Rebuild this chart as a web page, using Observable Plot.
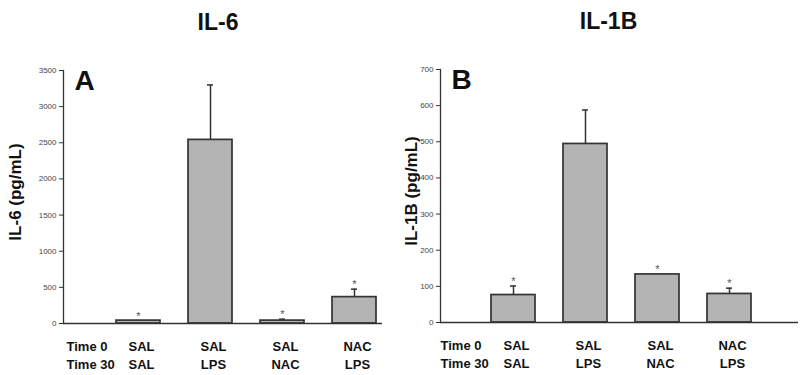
<!DOCTYPE html>
<html>
<head>
<meta charset="utf-8">
<script src="https://cdn.jsdelivr.net/npm/d3@7"></script>
<script src="https://cdn.jsdelivr.net/npm/@observablehq/plot@0.6"></script>
<style>
  html, body { margin: 0; padding: 0; background: #fff; }
  #row { display: flex; width: 800px; height: 375px; }
</style>
</head>
<body>
<div id="row"></div>
<script>
// ---- data ----
const treatments = ["SAL/SAL", "SAL/LPS", "SAL/NAC", "NAC/LPS"];
const time0 = ["SAL", "SAL", "SAL", "NAC"];
const time30 = ["SAL", "LPS", "NAC", "LPS"];
const timeLabel = "Time 0\nTime 30";

const il6Mean = [40, 2540, 40, 365];
const il6ErrTop = [40, 3300, 60, 475];
const il6Star = [true, false, true, true];
const il6Ticks = [0, 500, 1000, 1500, 2000, 2500, 3000, 3500];

const il1bMean = [76, 494, 133, 79];
const il1bErrTop = [101, 588, 133, 95];
const il1bStar = [true, false, true, true];
const il1bTicks = [0, 100, 200, 300, 400, 500, 600, 700];

const titles = ["IL-6", "IL-1B"];
const yLabels = ["IL-6 (pg/mL)", "IL-1B (pg/mL)"];
const panelLetters = ["A", "B"];

function makeChart(cfg) {
  const data = treatments.map((t, i) => ({
    treatment: t, t0: time0[i], t30: time30[i],
    mean: cfg.mean[i], errTop: cfg.errTop[i], star: cfg.star[i]
  }));
  const bold = "bold";
  return Plot.plot({
    width: 400, height: 375,
    marginLeft: cfg.ml, marginRight: cfg.mr, marginTop: cfg.mt, marginBottom: cfg.mb,
    style: {fontFamily: "'Liberation Sans', Arial, sans-serif", background: "white", overflow: "visible"},
    x: {type: "band", domain: treatments, range: cfg.xRange, paddingInner: 0.39, paddingOuter: 0.195, axis: null},
    y: {domain: [0, cfg.ticks[cfg.ticks.length - 1]], axis: null},
    marks: [
      Plot.axisY({ticks: cfg.ticks, tickFormat: d => String(d), tickSize: 4, tickPadding: 3, fontSize: 8, color: "#444", stroke: "#333", label: null}),
      Plot.ruleX(data.filter(d => d.errTop > d.mean), {x: "treatment", y1: "mean", y2: "errTop", stroke: "#333", strokeWidth: 1.5}),
      Plot.tickY(data.filter(d => d.errTop > d.mean), {x: "treatment", y: "errTop", insetLeft: 19, insetRight: 19, stroke: "#333", strokeWidth: 1.5}),
      Plot.barY(data, {x: "treatment", y: "mean", fill: "#b4b4b4", stroke: "#333", strokeWidth: 1.7}),
      Plot.frame({anchor: "left", stroke: "#333", strokeWidth: 1.3}),
      Plot.ruleY([0], {stroke: "#333", strokeWidth: 1.5}),
      Plot.text(data.filter(d => d.star), {x: "treatment", y: d => Math.max(d.mean, d.errTop), text: () => "*", lineAnchor: "bottom", dy: -1, fontSize: 11, fill: "#555"}),
      Plot.text(data, {x: "treatment", text: d => d.t0 + "\n" + d.t30, frameAnchor: "bottom", lineAnchor: "middle", dy: 31, dx: 3, lineHeight: 1.38, fontSize: 13, fontWeight: bold, fill: "#111"}),
      Plot.text([timeLabel], {frameAnchor: "bottom-left", textAnchor: "start", lineAnchor: "middle", dy: 31, dx: cfg.timeDx, lineHeight: 1.38, fontSize: 13, fontWeight: bold, fill: "#111"}),
      Plot.text([cfg.letter], {frameAnchor: "top-left", textAnchor: "start", lineAnchor: "top", dx: 11, dy: 0, fontSize: 28, fontWeight: bold, fill: "#111"}),
      Plot.text([cfg.title], {frameAnchor: "top", lineAnchor: "top", dy: -57, dx: cfg.titleDx, fontSize: 23, fontWeight: bold, fill: "#111", fontFamily: "'Liberation Sans Narrow', 'Arial Narrow', 'Liberation Sans', sans-serif"}),
      Plot.text([cfg.yLabel], {frameAnchor: "left", textAnchor: "middle", rotate: -90, dx: cfg.yLabelDx, dy: -5, fontSize: 17, fontWeight: bold, fill: "#111"})
    ]
  });
}

const row = document.getElementById("row");
row.appendChild(makeChart({
  mean: il6Mean, errTop: il6ErrTop, star: il6Star, ticks: il6Ticks,
  ml: 63, mr: 18, mt: 70, mb: 52, xRange: [102, 390],
  letter: panelLetters[0], title: titles[0], yLabel: yLabels[0],
  titleDx: -5, yLabelDx: -48, timeDx: 3
}));
row.appendChild(makeChart({
  mean: il1bMean, errTop: il1bErrTop, star: il1bStar, ticks: il1bTicks,
  ml: 40, mr: 2, mt: 69, mb: 53, xRange: [76, 365],
  letter: panelLetters[1], title: titles[1], yLabel: yLabels[1],
  titleDx: -11, yLabelDx: -29, timeDx: 0
}));
</script>
</body>
</html>
